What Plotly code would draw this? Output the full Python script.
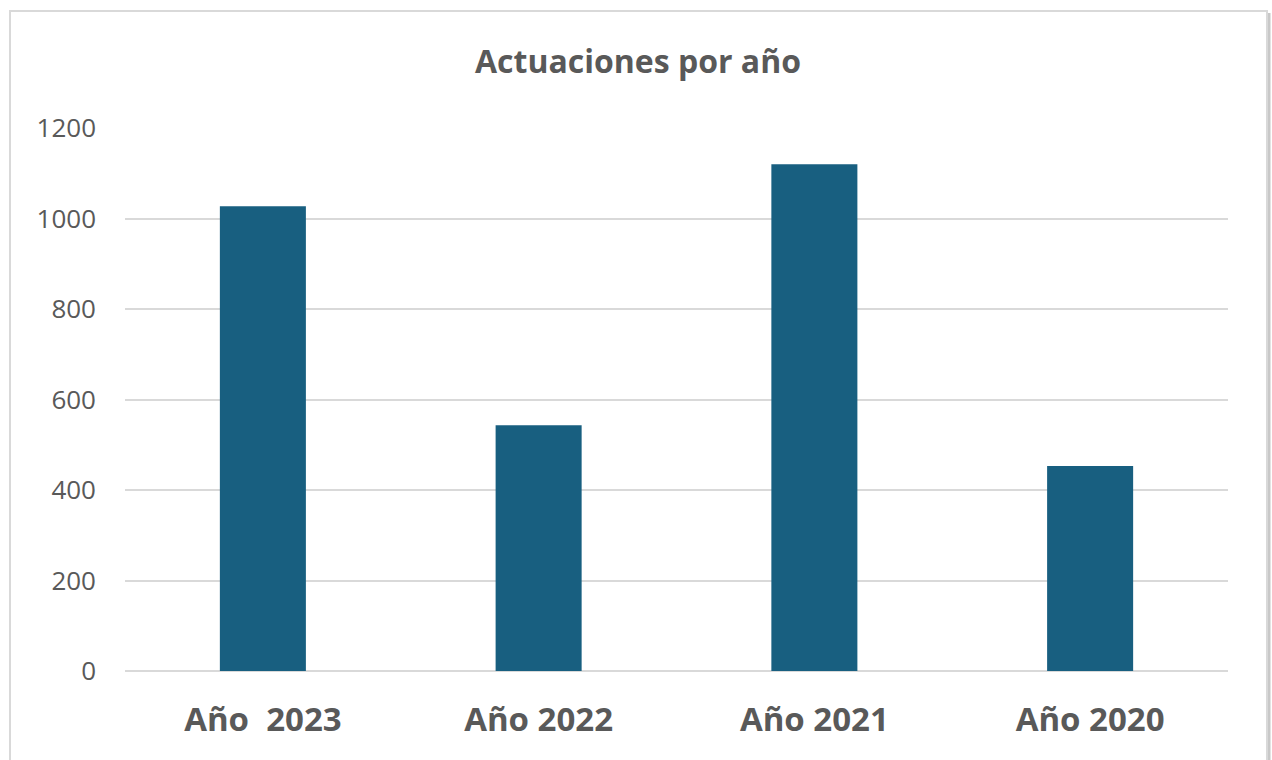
import plotly.graph_objects as go

# Actuaciones registradas por año
categorias = ["Año\u00a0\u00a02023", "Año 2022", "Año 2021", "Año 2020"]
actuaciones = [1027, 543, 1120, 453]
ticks_y = [0, 200, 400, 600, 800, 1000, 1200]

TEXT = "#595959"
BAR = "#185F80"
FONT = "Open Sans"

fig = go.Figure(
    go.Bar(
        x=categorias,
        y=actuaciones,
        marker=dict(color=BAR, line=dict(width=0)),
        width=0.312,
        hoverinfo="x+y",
    )
)

# plot area geometry (pixels) used to place the outer frame in paper units
L, R, T, B, W, H = 125, 44, 128, 89, 1272, 760
pw, ph = W - L - R, H - T - B


def px_x(x):
    return (x - L) / pw


def px_y(y):
    return (H - B - y) / ph


shapes = [
    # soft drop shadow on the right edge
    dict(type="line", xref="paper", yref="paper",
         x0=px_x(1269), x1=px_x(1269), y0=px_y(13), y1=px_y(775),
         line=dict(color="#C8C8C8", width=3), layer="below"),
    # outer chart frame
    dict(type="rect", xref="paper", yref="paper",
         x0=px_x(10), x1=px_x(1267), y0=px_y(775), y1=px_y(11),
         line=dict(color="#D9D9D9", width=2), fillcolor="rgba(0,0,0,0)",
         layer="below"),
]

fig.update_layout(
    width=W,
    height=H,
    margin=dict(l=L, r=R, t=T, b=B, pad=0),
    paper_bgcolor="white",
    plot_bgcolor="white",
    showlegend=False,
    bargap=0.688,
    title=dict(
        text="<b>Actuaciones por año</b>",
        x=638 / W,
        xanchor="center",
        y=1 - 62 / H,
        yanchor="middle",
        yref="container",
        font=dict(family=FONT, size=32, color=TEXT),
    ),
    font=dict(family=FONT, color=TEXT),
    shapes=shapes,
)

fig.update_xaxes(
    type="category",
    tickfont=dict(family=FONT, size=33, color=TEXT, weight="bold"),
    showgrid=False,
    showline=False,
    ticks="",
    ticklabelstandoff=26,
    zeroline=False,
)

fig.update_yaxes(
    range=[0, 1200],
    tickvals=ticks_y,
    ticktext=[str(v) for v in ticks_y],
    tickfont=dict(family=FONT, size=26, color=TEXT),
    showgrid=True,
    gridcolor="#D9D9D9",
    gridwidth=2,
    zeroline=True,
    zerolinecolor="#D9D9D9",
    zerolinewidth=2,
    showline=False,
    ticks="",
    ticklabelstandoff=28,
)

fig.write_html("out.html")
